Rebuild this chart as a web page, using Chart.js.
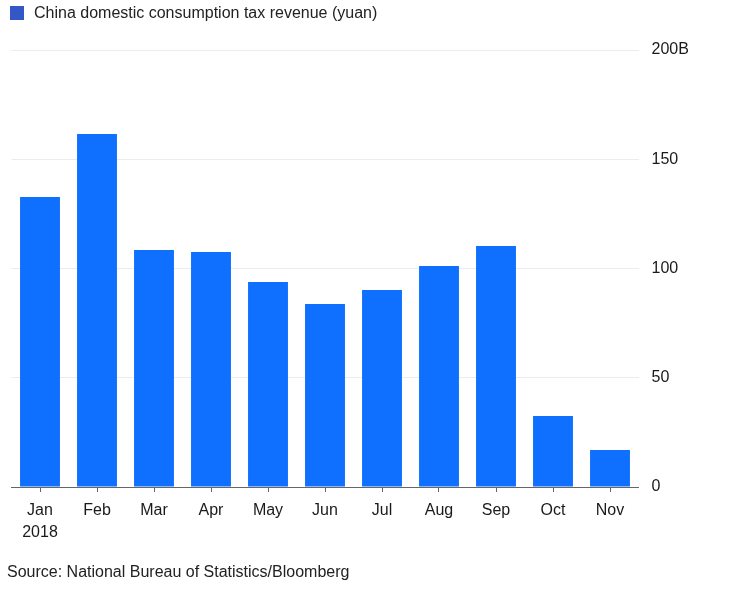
<!DOCTYPE html>
<html lang="en">
  <head>
    <meta charset="UTF-8" />
    <title>China domestic consumption tax revenue</title>
    <script src="https://cdn.jsdelivr.net/npm/chart.js"></script>
    <style>
      * {
        margin: 0;
        padding: 0;
        box-sizing: border-box;
      }

      body {
        width: 732px;
        height: 596px;
        background: #fff;
        position: relative;
        overflow: hidden;
        font-family: "Liberation Sans", Arial, sans-serif;
        color: #1a1a1a;
      }

      /* Legend */
      .legend {
        position: absolute;
        left: 10px;
        top: 4px;
        display: flex;
        align-items: center;
        font-size: 16px;
        color: #222;
      }

      .legend .swatch {
        width: 14px;
        height: 14px;
        background: #3457c8;
        margin-right: 10px;
      }

      .source {
        position: absolute;
        left: 7px;
        top: 563px;
        font-size: 16px;
        color: #222;
      }

      .chart-box {
        position: absolute;
        left: 0;
        top: 0;
        width: 732px;
        height: 596px;
      }
    </style>
  </head>
  <body>
    <div class="chart-box"><canvas id="taxChart"></canvas></div>

    <div class="legend">
      <div class="swatch"></div>
      <span>China domestic consumption tax revenue (yuan)</span>
    </div>

    <div class="source">Source: National Bureau of Statistics/Bloomberg</div>

    <script>
      // data (billion yuan)
      const months = ["Jan", "Feb", "Mar", "Apr", "May", "Jun", "Jul", "Aug", "Sep", "Oct", "Nov"];
      const revenue = [132.7, 161.6, 108.5, 107.6, 93.8, 83.8, 90.2, 101.1, 110.3, 32.5, 16.9];
      const yTicks = [0, 50, 100, 150, 200];
      const yTickLabels = ["0", "50", "100", "150", "200B"];

      const labels = months.map((m, i) => (i === 0 ? [m, "2018"] : m));

      const ctx = document.getElementById("taxChart").getContext("2d");

      new Chart(ctx, {
        type: "bar",
        data: {
          labels: labels,
          datasets: [
            {
              label: "China domestic consumption tax revenue (yuan)",
              data: revenue,
              backgroundColor: "#0f6fff",
              borderWidth: 0,
              categoryPercentage: 0.7,
              barPercentage: 1.0,
            },
          ],
        },
        options: {
          responsive: true,
          maintainAspectRatio: false,
          animation: false,
          devicePixelRatio: 1,
          layout: {
            padding: { left: 11.5, top: 50, right: 0, bottom: 0 },
          },
          plugins: {
            legend: { display: false },
            tooltip: { enabled: false },
          },
          scales: {
            x: {
              offset: true,
              grid: {
                offset: false, // tick marks under the bars
                drawOnChartArea: false,
                drawTicks: true,
                tickLength: 5,
                color: "#666",
              },
              border: { display: true, color: "#666", width: 1 },
              ticks: {
                padding: 7,
                color: "#1a1a1a",
                font: { family: "Liberation Sans", size: 16, lineHeight: 1.4 },
                maxRotation: 0,
                autoSkip: false,
              },
              afterFit: (scale) => {
                scale.height = 109;
              },
            },
            y: {
              position: "right",
              min: 0,
              max: 200,
              afterBuildTicks: (scale) => {
                scale.ticks = yTicks.map((v) => ({ value: v }));
              },
              grid: {
                color: "#ececec",
                drawTicks: false,
              },
              border: { display: false },
              ticks: {
                padding: 13,
                color: "#1a1a1a",
                font: { family: "Liberation Sans", size: 16 },
                callback: (value) => yTickLabels[yTicks.indexOf(value)],
              },
              afterFit: (scale) => {
                scale.width = 93.5;
              },
            },
          },
        },
      });
    </script>
  </body>
</html>
